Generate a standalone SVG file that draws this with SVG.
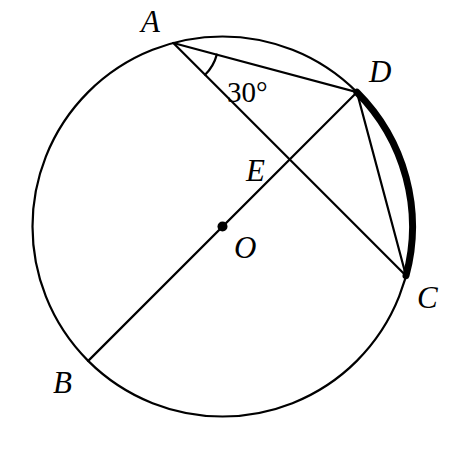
<svg xmlns="http://www.w3.org/2000/svg" width="463" height="456" viewBox="0 0 463 456">
<style>
.ln{fill:none;stroke:#000;stroke-width:2.2;stroke-linecap:round}
.lb{font-family:"Liberation Serif",serif;font-style:italic;font-size:31px;fill:#000}
.nm{font-family:"Liberation Serif",serif;font-size:29px;fill:#000}
</style>
<rect width="463" height="456" fill="#fff"/>
<g id="connectors">
<circle class="ln" cx="222.5" cy="226.5" r="190"/>
<path class="ln" d="M173.3,43 L406,275.7"/>
<path class="ln" d="M88.2,360.9 L356.9,92.2"/>
<path class="ln" d="M173.3,43 L356.9,92.2 L406,275.7"/>
<path class="ln" d="M216.8,54.6 A45,45 0 0 1 205.1,74.8"/>
<path d="M356.9,92.2 A190,190 0 0 1 406,275.7" fill="none" stroke="#000" stroke-width="7" stroke-linecap="round"/>
</g>
<g id="node-A"><text class="lb" x="141" y="32">A</text></g>
<g id="node-D"><text class="lb" x="369" y="82">D</text></g>
<g id="node-E"><text class="lb" x="246" y="181">E</text></g>
<g id="node-O"><circle cx="222.5" cy="226.5" r="5"/><text class="lb" x="234" y="258">O</text></g>
<g id="node-C"><text class="lb" x="417" y="308">C</text></g>
<g id="node-B"><text class="lb" x="53" y="393">B</text></g>
<g id="angle"><text class="nm" x="227" y="102">30°</text></g>
</svg>
